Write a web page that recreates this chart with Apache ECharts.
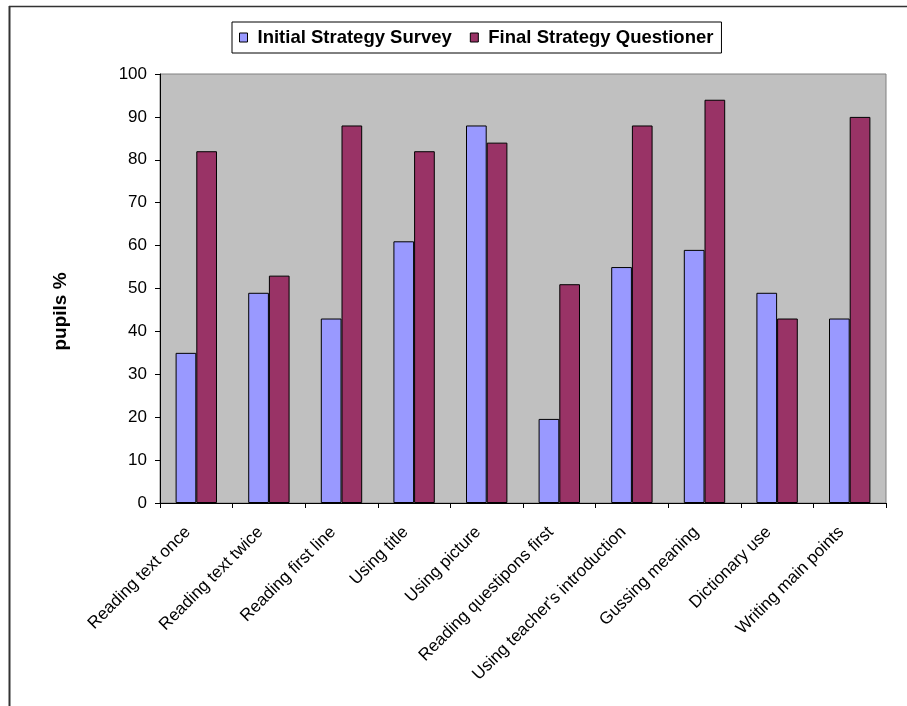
<!DOCTYPE html>
<html>
<head>
<meta charset="utf-8">
<script src="https://cdn.jsdelivr.net/npm/echarts@6/dist/echarts.min.js"></script>
<style>
html,body{margin:0;padding:0;background:#fff;}
#c{width:907px;height:706px;}
</style>
</head>
<body>
<div id="c"></div>
<script>
const categories = ["Reading text once","Reading text twice","Reading first line","Using title","Using picture","Reading questipons first","Using teacher's introduction","Gussing meaning","Dictionary use","Writing main points"];
const initialSurvey = [35, 49, 43, 61, 88, 19.6, 55, 59, 49, 43];
const finalQuestioner = [82, 53, 88, 82, 84, 51, 88, 94, 43, 90];
const yTicks = {min: 0, max: 100, interval: 10};

const chart = echarts.init(document.getElementById('c'));
const font = 'Arial, "Liberation Sans", sans-serif';
chart.setOption({
  animation: false,
  backgroundColor: '#ffffff',
  graphic: [
    {type: 'line', shape: {x1: 9.5, y1: 6, x2: 9.5, y2: 706}, style: {stroke: '#333', lineWidth: 2}},
    {type: 'line', shape: {x1: 9, y1: 6.5, x2: 907, y2: 6.5}, style: {stroke: '#333', lineWidth: 1.5}}
  ],
  legend: {
    left: 232, top: 22,
    padding: [6, 8, 6, 7],
    borderColor: '#000', borderWidth: 1,
    backgroundColor: '#fff',
    itemWidth: 8, itemHeight: 9, itemGap: 18,
    icon: 'rect',
    textStyle: {fontFamily: font, fontSize: 18.5, fontWeight: 'bold', color: '#000', padding: [0, 0, 0, 5]},
    data: [
      {name: 'Initial Strategy Survey', itemStyle: {borderColor: '#000', borderWidth: 1}},
      {name: 'Final Strategy Questioner', itemStyle: {borderColor: '#000', borderWidth: 1}}
    ]
  },
  grid: {
    left: 160, right: 21, top: 74, bottom: 203,
    show: true, backgroundColor: '#C0C0C0', borderColor: '#808080', borderWidth: 1,
    containLabel: false
  },
  xAxis: {
    type: 'category',
    data: categories,
    axisLine: {lineStyle: {color: '#000', width: 1}},
    axisTick: {show: true, alignWithLabel: false, length: 5, lineStyle: {color: '#000'}},
    axisLabel: {rotate: 45, interval: 0, margin: 18, padding: [0, 12, 0, 0], fontFamily: font, fontSize: 17, color: '#000'},
    splitLine: {show: false}
  },
  yAxis: {
    type: 'value',
    min: yTicks.min, max: yTicks.max, interval: yTicks.interval,
    name: 'pupils %',
    nameLocation: 'middle',
    nameGap: 90,
    nameRotate: 90,
    nameTextStyle: {fontFamily: font, fontSize: 19, fontWeight: 'bold', color: '#000', padding: [0, 46, 0, 0]},
    axisLine: {show: true, lineStyle: {color: '#000', width: 1}},
    axisTick: {show: true, length: 5, lineStyle: {color: '#000'}},
    axisLabel: {fontFamily: font, fontSize: 17, color: '#000', margin: 13},
    splitLine: {show: false}
  },
  series: [
    {
      name: 'Initial Strategy Survey', type: 'bar', data: initialSurvey,
      barGap: '0%', barCategoryGap: '43%',
      itemStyle: {color: '#9999FF', borderColor: '#000', borderWidth: 1}
    },
    {
      name: 'Final Strategy Questioner', type: 'bar', data: finalQuestioner,
      barGap: '0%', barCategoryGap: '43%',
      itemStyle: {color: '#993366', borderColor: '#000', borderWidth: 1}
    }
  ]
});
</script>
</body>
</html>
